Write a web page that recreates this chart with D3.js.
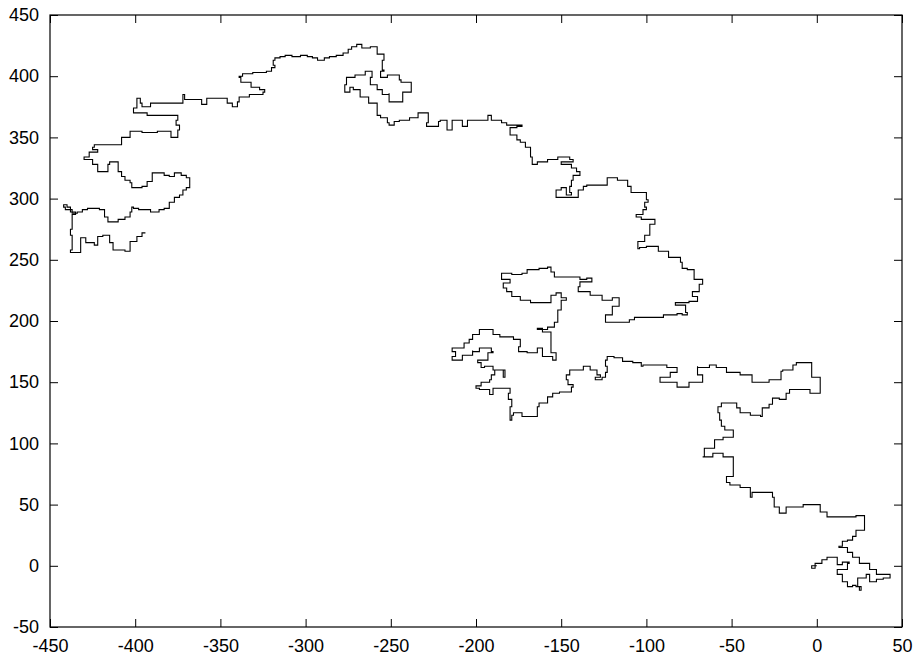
<!DOCTYPE html>
<html>
<head>
<meta charset="utf-8">
<script src="https://cdn.jsdelivr.net/npm/d3@7"></script>
<style>
  html, body { margin: 0; padding: 0; background: #fff; }
  svg { display: block; }
  text { font-family: "Liberation Sans", Arial, sans-serif; font-size: 18px; fill: #000; }
</style>
</head>
<body>
<svg id="chart" width="917" height="655"></svg>
<script>
// Tick values
const xTicks = [-450, -400, -350, -300, -250, -200, -150, -100, -50, 0, 50];
const yTicks = [-50, 0, 50, 100, 150, 200, 250, 300, 350, 400, 450];

// Random walk path, [x, y] in data units (start at origin)
const walk = [
 [0,0],[-3,-2],[-1,2],[3,5],[6,7],[9,7],[12,1],[15,3],[19,2],[18,-3],[12,-7],[15,-13],[18,-17],[21,-16],[23,-17],[25,-20],[26,-17],[24,-10],[29,-7],[31,-13],[35,-11],[39,-10],[43,-7],[35,-3],[31,2],[25,7],[21,11],[18,15],[13,16],[15,20],[18,21],[21,24],[23,29],[28,33],[28,41],[23,40],[11,40],[6,44],[2,50],[-8,48],[-18,43],[-22,48],[-25,56],[-26,60],[-32,60],[-38,56],[-39,64],[-45,66],[-51,68],[-53,73],[-49,78],[-49,89],[-55,92],[-61,89],[-67,89],[-66,96],[-60,103],[-55,105],[-49,111],[-54,114],[-56,119],[-57,125],[-58,130],[-56,133],[-51,133],[-47,129],[-45,125],[-39,123],[-33,122],[-32,129],[-28,132],[-26,137],[-22,136],[-18,141],[-16,144],[-8,144],[-4,141],[2,154],[-3,166],[-12,164],[-14,160],[-20,159],[-21,152],[-28,150],[-36,150],[-38,156],[-45,158],[-53,162],[-59,164],[-63,162],[-70,163],[-70,156],[-67,154],[-67,150],[-75,146],[-82,150],[-91,150],[-92,154],[-86,158],[-82,162],[-88,164],[-102,163],[-103,166],[-108,167],[-114,170],[-119,171],[-123,168],[-124,163],[-123,158],[-124,154],[-126,152],[-130,154],[-127,156],[-129,160],[-133,163],[-137,160],[-143,160],[-145,156],[-147,152],[-146,148],[-143,146],[-144,142],[-151,141],[-155,138],[-158,133],[-163,130],[-164,126],[-164,122],[-171,122],[-173,125],[-178,123],[-179,119],[-180,130],[-179,136],[-181,141],[-180,145],[-187,145],[-190,140],[-192,144],[-198,145],[-200,147],[-197,150],[-192,152],[-191,156],[-189,160],[-184,154],[-183,160],[-190,163],[-195,162],[-197,166],[-199,168],[-193,174],[-190,175],[-191,178],[-198,175],[-202,176],[-202,172],[-208,168],[-214,171],[-212,175],[-214,178],[-207,182],[-204,185],[-202,189],[-198,193],[-192,193],[-190,189],[-186,187],[-178,185],[-174,179],[-175,175],[-170,174],[-164,178],[-161,176],[-161,171],[-155,168],[-153,174],[-156,183],[-156,191],[-161,194],[-164,193],[-158,195],[-154,199],[-152,209],[-150,217],[-147,219],[-150,223],[-153,221],[-156,215],[-163,215],[-168,217],[-174,220],[-179,224],[-182,227],[-184,231],[-180,234],[-185,239],[-179,238],[-173,239],[-170,242],[-163,243],[-158,244],[-156,240],[-154,236],[-147,236],[-139,234],[-135,235],[-132,232],[-139,228],[-140,224],[-133,221],[-126,217],[-120,219],[-116,212],[-120,205],[-124,199],[-116,199],[-110,201],[-107,203],[-102,203],[-98,203],[-94,203],[-90,205],[-86,205],[-82,206],[-79,205],[-76,207],[-77,213],[-83,215],[-75,216],[-70,220],[-73,224],[-69,230],[-67,234],[-72,242],[-76,243],[-79,248],[-80,252],[-87,257],[-93,261],[-100,260],[-104,259],[-105,265],[-101,270],[-98,279],[-95,283],[-103,285],[-106,287],[-102,291],[-100,293],[-101,297],[-99,299],[-100,305],[-106,305],[-109,310],[-111,315],[-117,317],[-123,311],[-130,311],[-135,310],[-137,307],[-140,301],[-149,301],[-153,307],[-150,309],[-147,303],[-144,305],[-145,310],[-144,315],[-143,319],[-139,322],[-141,325],[-144,328],[-149,328],[-150,330],[-143,332],[-145,334],[-152,332],[-158,330],[-164,328],[-167,334],[-168,342],[-171,346],[-174,348],[-176,352],[-180,354],[-180,358],[-176,359],[-173,360],[-182,362],[-185,364],[-191,368],[-193,364],[-198,364],[-205,359],[-208,364],[-214,364],[-214,356],[-217,356],[-217,364],[-221,363],[-222,359],[-229,362],[-228,370],[-233,370],[-234,366],[-239,364],[-245,363],[-248,360],[-251,362],[-252,366],[-256,368],[-258,373],[-258,378],[-263,383],[-268,389],[-272,391],[-274,387],[-277,393],[-276,399],[-271,401],[-265,404],[-261,399],[-262,393],[-258,389],[-255,385],[-251,386],[-251,379],[-244,379],[-243,387],[-238,391],[-238,395],[-244,397],[-245,401],[-252,399],[-256,399],[-256,404],[-254,405],[-255,413],[-254,418],[-258,424],[-262,423],[-267,426],[-270,424],[-273,422],[-275,419],[-278,417],[-282,416],[-286,415],[-289,413],[-292,413],[-293,415],[-296,416],[-299,417],[-303,416],[-308,417],[-310,417],[-312,416],[-315,415],[-318,413],[-319,409],[-318,407],[-320,404],[-323,403],[-326,403],[-329,403],[-331,402],[-334,402],[-337,400],[-339,399],[-338,395],[-332,391],[-327,389],[-324,387],[-325,385],[-333,383],[-339,379],[-340,375],[-343,378],[-346,382],[-350,382],[-358,377],[-361,381],[-368,381],[-371,385],[-372,378],[-381,378],[-387,378],[-391,375],[-396,378],[-397,382],[-399,374],[-401,370],[-393,368],[-382,368],[-375,364],[-376,360],[-374,356],[-375,350],[-379,350],[-379,355],[-387,354],[-396,355],[-403,350],[-408,344],[-418,344],[-424,342],[-425,340],[-422,338],[-427,334],[-430,332],[-425,328],[-422,322],[-416,328],[-415,330],[-410,329],[-410,322],[-408,318],[-406,315],[-403,313],[-402,309],[-398,309],[-396,310],[-393,314],[-390,317],[-390,321],[-386,321],[-383,319],[-380,318],[-377,321],[-373,319],[-370,317],[-368,313],[-368,309],[-370,307],[-372,303],[-374,301],[-377,297],[-379,297],[-380,292],[-383,291],[-386,289],[-389,289],[-391,291],[-394,291],[-398,292],[-401,293],[-402,289],[-403,285],[-406,283],[-410,281],[-415,281],[-416,285],[-418,288],[-418,291],[-421,292],[-424,292],[-428,291],[-431,289],[-434,288],[-437,291],[-438,293],[-440,295],[-442,293],[-441,291],[-438,289],[-435,287],[-437,283],[-437,279],[-437,275],[-438,270],[-437,266],[-437,258],[-438,256],[-434,256],[-432,268],[-429,264],[-424,262],[-422,269],[-419,270],[-415,264],[-413,258],[-406,257],[-403,265],[-399,269],[-396,272],[-394,272]
];

const svg = d3.select("#chart");
const mLeft = 50, mRight = 902, mTop = 15, mBottom = 627;

const x = d3.scaleLinear().domain([-450, 50]).range([mLeft, mRight]);
const y = d3.scaleLinear().domain([-50, 450]).range([mBottom, mTop]);

const tickLen = 8;
const fmt = d => String(d); // plain hyphen-minus like the reference

// Bottom axis (labels + inward ticks)
svg.append("g")
  .attr("transform", `translate(0,${mBottom})`)
  .call(d3.axisBottom(x).tickValues(xTicks).tickSizeInner(-tickLen).tickSizeOuter(0).tickPadding(12).tickFormat(fmt))
  .call(g => g.select(".domain").remove())
  .call(g => g.selectAll("line").attr("stroke", "#000"))
  .call(g => g.selectAll("text").attr("font-family", null).attr("font-size", null));

// Top axis (ticks only)
svg.append("g")
  .attr("transform", `translate(0,${mTop})`)
  .call(d3.axisTop(x).tickValues(xTicks).tickSizeInner(-tickLen).tickSizeOuter(0).tickFormat(""))
  .call(g => g.select(".domain").remove())
  .call(g => g.selectAll("line").attr("stroke", "#000"));

// Left axis
svg.append("g")
  .attr("transform", `translate(${mLeft},0)`)
  .call(d3.axisLeft(y).tickValues(yTicks).tickSizeInner(-tickLen).tickSizeOuter(0).tickPadding(11).tickFormat(fmt))
  .call(g => g.select(".domain").remove())
  .call(g => g.selectAll("line").attr("stroke", "#000"))
  .call(g => g.selectAll("text").attr("font-family", null).attr("font-size", null));

// Right axis (ticks only)
svg.append("g")
  .attr("transform", `translate(${mRight},0)`)
  .call(d3.axisRight(y).tickValues(yTicks).tickSizeInner(-tickLen).tickSizeOuter(0).tickFormat(""))
  .call(g => g.select(".domain").remove())
  .call(g => g.selectAll("line").attr("stroke", "#000"));

// Frame
svg.append("rect")
  .attr("x", mLeft).attr("y", mTop)
  .attr("width", mRight - mLeft).attr("height", mBottom - mTop)
  .attr("fill", "none").attr("stroke", "#000").attr("stroke-width", 1.2);

// Walk
const line = d3.line()
  .x(d => x(d[0]))
  .y(d => y(d[1]))
  .curve(d3.curveStepAfter);

svg.append("path")
  .datum(walk)
  .attr("d", line)
  .attr("fill", "none")
  .attr("stroke", "#000")
  .attr("stroke-width", 1.1)
  .attr("stroke-linejoin", "miter");
</script>
</body>
</html>
